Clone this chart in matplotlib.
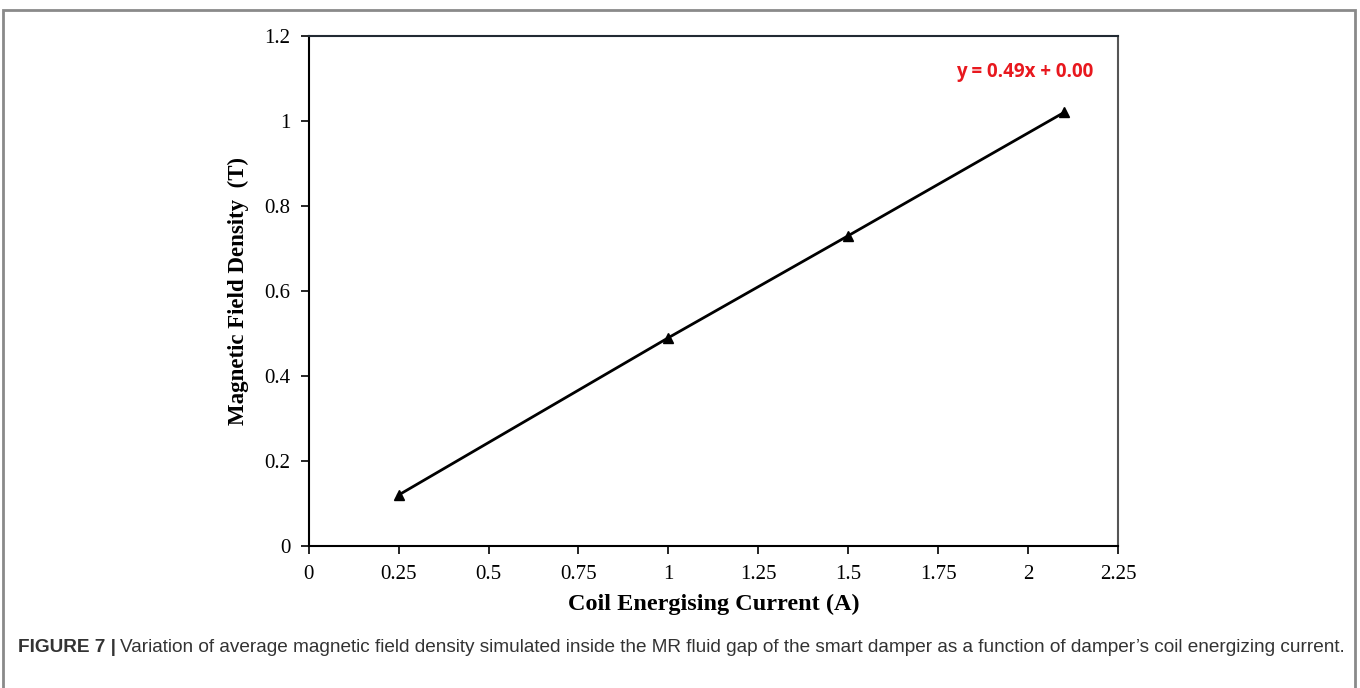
"""plot.py: coil current vs magnetic field density"""

import matplotlib
matplotlib.use("Agg")
import matplotlib.pyplot as plt
from matplotlib.patches import Rectangle

current = [0.25, 1.0, 1.5, 2.1]
field_density = [0.12, 0.49, 0.73, 1.02]
x_ticks = [0, 0.25, 0.5, 0.75, 1, 1.25, 1.5, 1.75, 2, 2.25]
x_tick_labels = ["0", "0.25", "0.5", "0.75", "1", "1.25", "1.5", "1.75", "2", "2.25"]
y_ticks = [0, 0.2, 0.4, 0.6, 0.8, 1.0, 1.2]
y_tick_labels = ["0", "0.2", "0.4", "0.6", "0.8", "1", "1.2"]
fit_label = "y = 0.49x + 0.00"

serif = "Liberation Serif"

fig = plt.figure(figsize=(13.6, 6.88), dpi=100)
ax = fig.add_axes([0.227, 0.2064, 0.595, 0.7413])

ax.plot(current, field_density, color="black", linewidth=2,
        marker="^", markersize=7.5)

ax.set_xlim(0, 2.25)
ax.set_ylim(0, 1.2)
ax.set_xticks(x_ticks)
ax.set_xticklabels(x_tick_labels, fontfamily=serif, fontsize=15)
ax.set_yticks(y_ticks)
ax.set_yticklabels(y_tick_labels, fontfamily=serif, fontsize=15)
ax.tick_params(axis="both", direction="out", length=6, width=1.2, pad=7)
ax.tick_params(axis="x", pad=8)

for side in ax.spines.values():
    side.set_linewidth(1.5)
ax.spines["top"].set_color("#222a33")
ax.spines["right"].set_color("#555555")

ax.set_xlabel("Coil Energising Current (A)", fontfamily=serif,
              fontweight="bold", fontsize=17.5, labelpad=7)
ax.set_ylabel("Magnetic Field Density  (T)", fontfamily=serif,
              fontweight="bold", fontsize=16.5, labelpad=11)

ax.text(1.99, 1.115, fit_label, color="#e8181e", fontweight="bold",
        fontsize=13.5, fontfamily="Open Sans", ha="center", va="center")

# outer frame around the figure
fig.patches.append(Rectangle((3 / 1360, -0.01), 1352 / 1360, 1.01 - 10 / 688,
                             transform=fig.transFigure, fill=False,
                             edgecolor="#8a8a8a", linewidth=2))

# caption
cap_y = 1 - 647 / 688
t1 = fig.text(18 / 1360, cap_y, "FIGURE 7 |", fontfamily="Liberation Sans",
              fontweight="bold", fontsize=13.7, color="#333333", va="center")
fig.canvas.draw()
bb = t1.get_window_extent()
fig.text((bb.x1 + 4) / 1360, cap_y,
         "Variation of average magnetic field density simulated inside the MR "
         "fluid gap of the smart damper as a function of damper\u2019s coil "
         "energizing current.",
         fontfamily="Liberation Sans", fontsize=13.7, color="#333333", va="center")

fig.savefig("out.png", dpi=100)
